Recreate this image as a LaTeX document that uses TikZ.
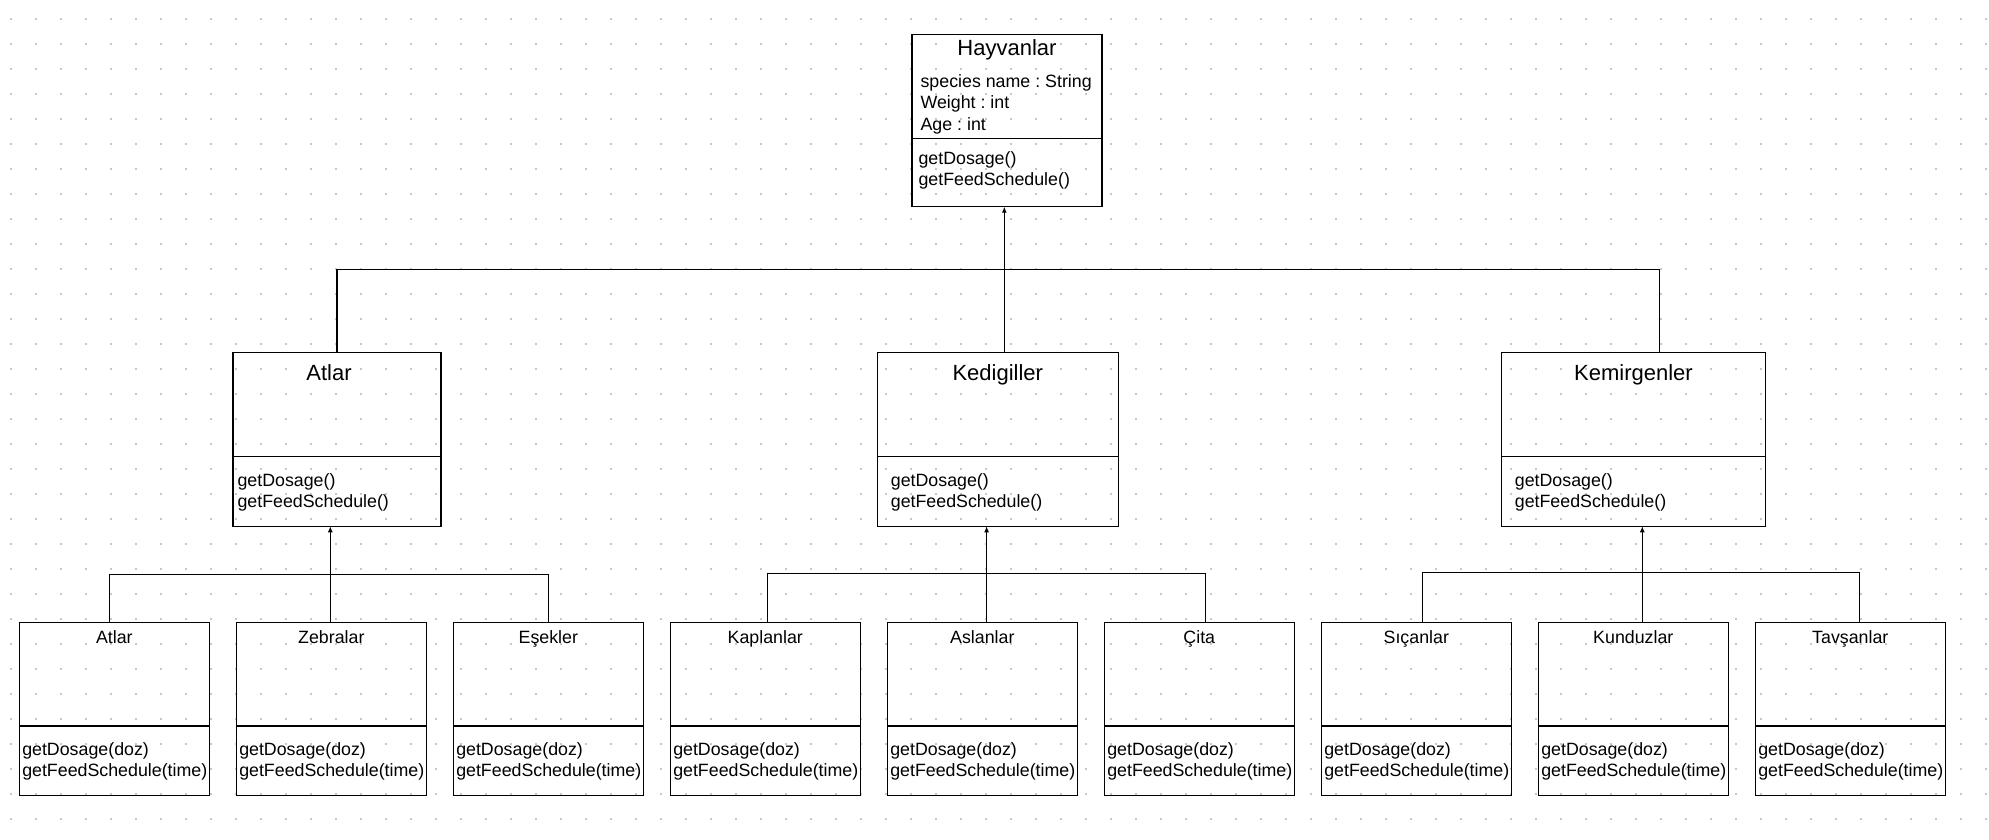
\documentclass[tikz,border=0pt]{standalone}
\usepackage{fontspec}
\setmainfont{Liberation Sans}
\usetikzlibrary{positioning, arrows.meta}
\frenchspacing

\tikzset{
  sinif/.style={draw, line width=1.1pt, inner sep=0pt, outer sep=0pt, anchor=north west},
  alt/.style={sinif, minimum width=190pt, minimum height=173pt},
  baslik/.style={anchor=base, inner sep=0pt, font=\fontsize{22}{26}\selectfont},
  kucukbaslik/.style={anchor=base, inner sep=0pt, font=\fontsize{17.8}{21.5}\selectfont},
  yazi/.style={anchor=north west, align=left, inner sep=0pt, font=\fontsize{17.8}{21.5}\selectfont},
  ok/.style={-{Latex[length=6pt,width=5pt]}},
}

\begin{document}
\begin{tikzpicture}[x=1pt, y=-1pt, line width=1.1pt, node distance=27pt]
  \useasboundingbox (0,0) rectangle (1989,840);

  % noktali arka plan
  \foreach \x in {11,36,...,1986}
    \foreach \y in {19,44,...,819}
      \fill[black!22] (\x-1,\y-1) rectangle ++(2,2);

  % ust sinif
  \node[sinif, minimum width=190pt, minimum height=172.4pt] (hayvan) at (912,34.3) {};
  \draw ([yshift=-104]hayvan.north west) -- ([yshift=-104]hayvan.north east);
  \node[baslik] (hayvan-b) at ([yshift=-21.7]hayvan.north) {Hayvanlar};
  \node[yazi] (hayvan-a) at ([xshift=8,yshift=-39.7]hayvan.north west) {species name : String\\Weight : int\\Age : int};
  \node[yazi] (hayvan-m) at ([xshift=6,yshift=-116.7]hayvan.north west) {getDosage()\\getFeedSchedule()};

  % orta siniflar
  \node[sinif, minimum width=208pt, minimum height=174pt] (atlar) at (233,352.3) {};
  \node[sinif, minimum width=241pt, minimum height=174pt] (kedi) at (877.3,352.3) {};
  \node[sinif, minimum width=264.4pt, minimum height=174pt] (kemir) at (1501.3,352.3) {};
  \foreach \ad/\isim/\dx/\girinti in {atlar/Atlar/-8/4, kedi/Kedigiller/0/13, kemir/Kemirgenler/0/13} {
    \draw ([yshift=-104.4]\ad.north west) -- ([yshift=-104.4]\ad.north east);
    \node[baslik] (\ad-b) at ([xshift=\dx,yshift=-27.7]\ad.north) {\isim};
    \node[yazi] (\ad-m) at ([xshift=\girinti,yshift=-120.7]\ad.north west) {getDosage()\\getFeedSchedule()};
  }

  % alt siniflar
  \node[alt] (at) at (19.3,622.3) {};
  \foreach \ad [remember=\ad as \onceki (initially at)] in {zebra,esek,kaplan,aslan,cita,sican,kunduz,tavsan}
    \node[alt, right=of \onceki] (\ad) {};
  \foreach \ad/\isim in {at/Atlar, zebra/Zebralar, esek/Eşekler, kaplan/Kaplanlar, aslan/Aslanlar,
                         cita/Çita, sican/Sıçanlar, kunduz/Kunduzlar, tavsan/Tavşanlar} {
    \draw ([yshift=-103.7]\ad.north west) -- ([yshift=-103.7]\ad.north east);
    \node[kucukbaslik] (\ad-b) at ([yshift=-21]\ad.north) {\isim};
    \node[yazi] (\ad-m) at ([xshift=2.4,yshift=-119.7]\ad.north west) {getDosage(doz)\\getFeedSchedule(time)};
  }

  % kalitim baglantilari
  \draw (atlar.north) -- ++(0,-83) -| ([xshift=26.2]kemir.north);
  \draw[ok] ([xshift=6.5]kedi.north) -- ([xshift=6.5]kedi.north |- hayvan.south);

  \draw ([xshift=-4.6]at.north) -- ++(0,-48) -| (esek.north);
  \draw[ok] ([xshift=-1]zebra.north) -- ([xshift=-1]zebra.north |- atlar.south);
  \draw ([xshift=2.5]kaplan.north) -- ++(0,-49) -| ([xshift=6]cita.north);
  \draw[ok] ([xshift=4.3]aslan.north) -- ([xshift=4.3]aslan.north |- kedi.south);
  \draw ([xshift=6]sican.north) -- ++(0,-49.6) -| ([xshift=9.5]tavsan.north);
  \draw[ok] ([xshift=9]kunduz.north) -- ([xshift=9]kunduz.north |- kemir.south);
\end{tikzpicture}
\end{document}
